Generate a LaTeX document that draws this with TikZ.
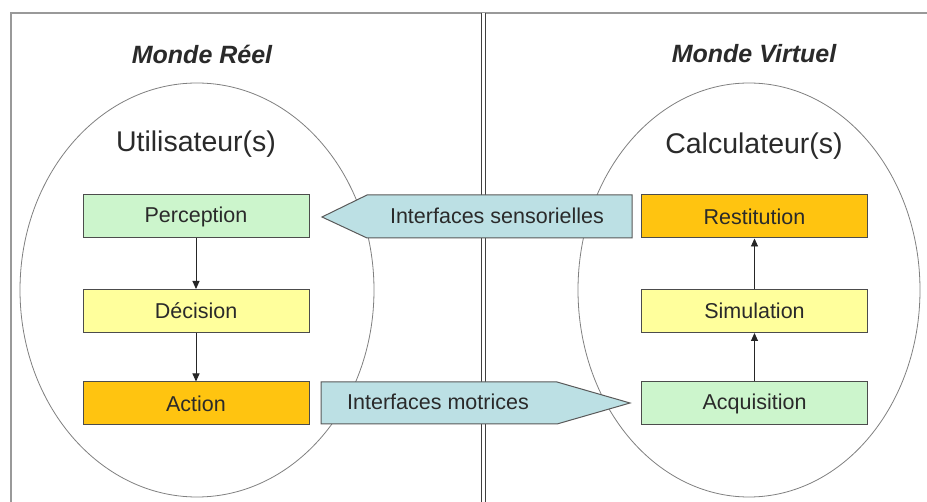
\documentclass[tikz,border=0pt]{standalone}
\usepackage{fontspec}
\setmainfont{Liberation Sans}
\usepackage{tikz}
\usetikzlibrary{arrows.meta}
\def\titlesize{\fontsize{25}{29}\selectfont}
\def\bigsize{\fontsize{28.5}{32}\selectfont}
\def\boxsize{\fontsize{21.5}{25}\selectfont}
\definecolor{boxgreen}{HTML}{CCF5CC}
\definecolor{boxyellow}{HTML}{FFFF9C}
\definecolor{boxorange}{HTML}{FFC410}
\definecolor{ifcblue}{HTML}{BCE0E4}
\definecolor{ink}{HTML}{2A2A2A}

\begin{document}
\begin{tikzpicture}[x=1pt, y=-1pt,
    stepbox/.style={draw=black!70, line width=1pt, minimum width=226pt, minimum height=43pt,
      inner sep=0pt, text=ink, font=\boxsize},
    flow/.style={-{Triangle[length=8pt,width=7pt]}, line width=0.9pt, black!85}]
      \useasboundingbox (0, 0) rectangle (927, 502);
      \fill [white] (0, 0) rectangle (927, 502);

      % frame and divider
      \draw [black!40, line width=1.2pt] (11, 502) -- (11, 13) -- (927, 13);
      \draw [black!75, line width=1pt, double=white, double distance=2.5pt] (483.5, 13) -- (483.5, 502);

      % the two worlds
      \draw [black!50, line width=0.8pt] (197, 290) ellipse [x radius=177, y radius=207];
      \draw [black!50, line width=0.8pt] (749, 290) ellipse [x radius=171, y radius=207];

      \node[text=ink, font=\titlesize\bfseries\itshape] (reel) at (202, 54) {Monde Réel};
      \node[text=ink, font=\titlesize\bfseries\itshape] (virtuel) at (754, 54) {Monde Virtuel};
      \node[text=ink, font=\bigsize] (user) at (196, 144) {Utilisateur(s)};
      \node[text=ink, font=\bigsize] (calc) at (754, 146) {Calculateur(s)};

      % interfaces
      \filldraw [fill=ifcblue, draw=black!65, line width=1pt]
        (322, 217) -- (367, 195) -- (632, 195) -- (632, 238) -- (367, 238) -- cycle;
      \filldraw [fill=ifcblue, draw=black!65, line width=1pt]
        (321, 382) -- (557, 382) -- (630, 403) -- (557, 424) -- (321, 424) -- cycle;
      \node[text=ink, font=\boxsize] (sens) at (497, 216) {Interfaces sensorielles};
      \node[text=ink, font=\boxsize] (motr) at (438, 402) {Interfaces motrices};

      % left column
      \node[stepbox, fill=boxgreen] (perception) at (196, 216.5) {Perception};
      \node[stepbox, fill=boxyellow] (decision) at (196, 311) {Décision};
      \node[stepbox, fill=boxorange] (action) at (196, 403.5) {Action};

      % right column
      \node[stepbox, fill=boxorange] (restitution) at (754.5, 216.5) {Restitution};
      \node[stepbox, fill=boxyellow] (simulation) at (754.5, 311) {Simulation};
      \node[stepbox, fill=boxgreen] (acquisition) at (754.5, 403.5) {Acquisition};

      \draw [flow] (perception) -- (decision);
      \draw [flow] (decision) -- (action);
      \draw [flow] (acquisition) -- (simulation);
      \draw [flow] (simulation) -- (restitution);
    \end{tikzpicture}
\end{document}
